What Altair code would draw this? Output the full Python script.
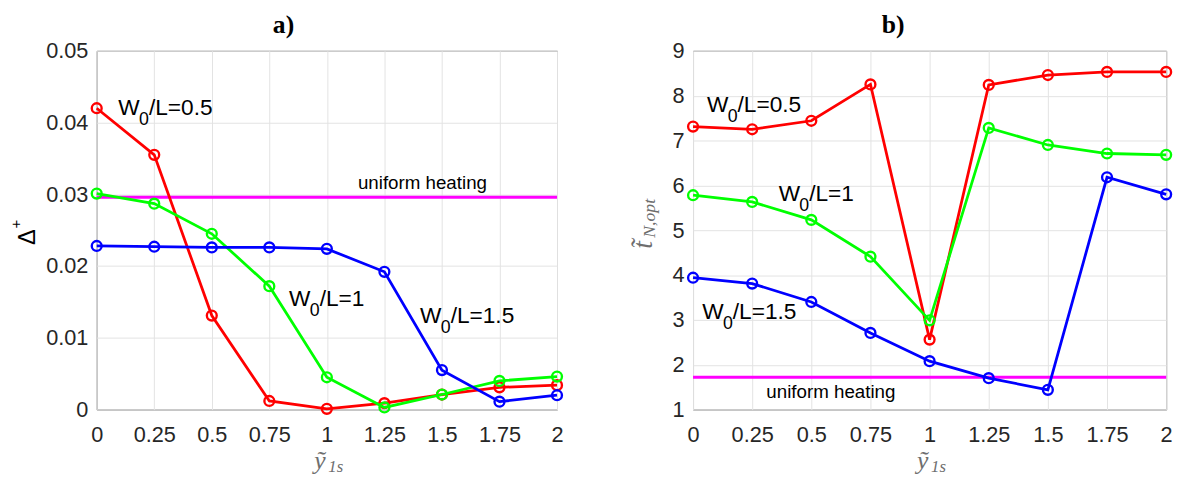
import altair as alt
import pandas as pd

# ---------------- data ----------------
x_vals = [0, 0.25, 0.5, 0.75, 1, 1.25, 1.5, 1.75, 2]
series_names = ["W0/L=0.5", "W0/L=1", "W0/L=1.5"]
series_colors = ["#ff0000", "#00ff00", "#0000ff"]

# panel a) Delta+
a_red = [0.0420, 0.0355, 0.0131, 0.0012, 0.0001, 0.0009, 0.0021, 0.0031, 0.0034]
a_green = [0.0301, 0.0287, 0.0245, 0.0172, 0.0045, 0.0003, 0.0021, 0.0040, 0.0046]
a_blue = [0.0228, 0.0227, 0.0226, 0.0226, 0.0224, 0.0192, 0.0055, 0.0011, 0.0020]
a_uniform = [0.0296]
a_yticks = [0, 0.01, 0.02, 0.03, 0.04, 0.05]

# panel b) t_N,opt
b_red = [7.31, 7.25, 7.44, 8.25, 2.56, 8.24, 8.46, 8.53, 8.53]
b_green = [5.78, 5.63, 5.23, 4.41, 2.99, 7.28, 6.90, 6.71, 6.68]
b_blue = [3.94, 3.81, 3.40, 2.71, 2.08, 1.70, 1.44, 6.18, 5.80]
b_uniform = [1.72]
b_yticks = [1, 2, 3, 4, 5, 6, 7, 8, 9]

# in-plot labels ("W" + subscript "0" + rest)
label_rest = ["/L=0.5", "/L=1", "/L=1.5"]
a_lab_x = [0.094, 0.836, 1.405]
a_lab_y = [0.0420, 0.0154, 0.0130]
b_lab_x = [0.059, 0.362, 0.039]
b_lab_y = [7.79, 5.81, 3.18]
uniform_text = ["uniform heating"]
a_uni_x, a_uni_y = [1.135], [0.0316]
b_uni_x, b_uni_y = [0.31], [1.40]

SANS = "Liberation Sans"
SERIF = "Liberation Serif"
TICK_COLOR = "#262626"
MATH_COLOR = "#6e6e6e"
one = pd.DataFrame({"k": [0]})


def panel(series, uniform, yticks, ydomain, lab_x, lab_y, uni_x, uni_y,
          title, title_dx, w, h, ytitle_layers):
    xs = alt.Scale(domain=[0, 2], nice=False)
    ys = alt.Scale(domain=ydomain, nice=False)
    xaxis = alt.Axis(values=x_vals, labelExpr="'' + datum.value", title=None, ticks=False,
                     domain=False, labelFont=SANS, labelFontSize=22,
                     labelColor=TICK_COLOR, labelPadding=15, gridColor="#e3e3e3",
                     labelFlush=False)
    yaxis = alt.Axis(values=yticks, labelExpr="'' + datum.value", title=None, ticks=False,
                     domain=False, labelFont=SANS, labelFontSize=22,
                     labelColor=TICK_COLOR, labelPadding=9, gridColor="#e3e3e3")
    X = alt.X("x:Q", scale=xs, axis=xaxis)
    Y = alt.Y("y:Q", scale=ys, axis=yaxis)

    layers = []
    uni_df = pd.DataFrame({"y": uniform})
    layers.append(alt.Chart(uni_df).mark_rule(color="#ff00ff", strokeWidth=3).encode(y=Y))

    for name, col, vals in zip(series_names, series_colors, series):
        df = pd.DataFrame({"x": x_vals, "y": vals, "series": name})
        layers.append(alt.Chart(df).mark_line(color=col, strokeWidth=2.8).encode(x=X, y=Y))
        layers.append(alt.Chart(df).mark_point(shape="circle", filled=False, color=col,
                                               size=100, strokeWidth=2.4, opacity=1)
                      .encode(x=X, y=Y))

    lab = pd.DataFrame({"x": lab_x, "y": lab_y, "rest": label_rest})
    layers.append(alt.Chart(lab).mark_text(text="W", align="left", baseline="middle",
                                           font=SANS, fontSize=23, color="black")
                  .encode(x=X, y=Y))
    layers.append(alt.Chart(lab).mark_text(text="0", align="left", baseline="middle",
                                           font=SANS, fontSize=18, color="black",
                                           dx=21, dy=12)
                  .encode(x=X, y=Y))
    layers.append(alt.Chart(lab).mark_text(align="left", baseline="middle",
                                           font=SANS, fontSize=23, color="black", dx=31)
                  .encode(x=X, y=Y, text="rest:N"))

    uni = pd.DataFrame({"x": uni_x, "y": uni_y, "t": uniform_text})
    layers.append(alt.Chart(uni).mark_text(align="left", baseline="middle",
                                           font=SANS, fontSize=19, color="black")
                  .encode(x=X, y=Y, text="t:N"))

    # x axis title  y~_{1s}
    layers.append(alt.Chart(one).mark_text(text="ỹ", font=SERIF, fontStyle="italic",
                                           fontSize=26, color=MATH_COLOR,
                                           align="center", baseline="middle")
                  .encode(x=alt.value(w / 2 - 7), y=alt.value(h + 52)))
    layers.append(alt.Chart(one).mark_text(text="1s", font=SERIF, fontStyle="italic",
                                           fontSize=17, color=MATH_COLOR,
                                           align="center", baseline="middle")
                  .encode(x=alt.value(w / 2 + 9), y=alt.value(h + 58)))
    layers.extend(ytitle_layers(h))

    return alt.layer(*layers).properties(
        width=w, height=h,
        title=alt.TitleParams(title, font=SERIF, fontWeight="bold", fontSize=26,
                              color="black", dx=title_dx, offset=2),
    )


def a_ytitle(h):
    return [
        alt.Chart(one).mark_text(text="Δ", font=SANS, fontSize=24, color="black",
                                 angle=270, align="center", baseline="middle")
        .encode(x=alt.value(-70), y=alt.value(h / 2 + 7)),
        alt.Chart(one).mark_text(text="+", font=SANS, fontSize=15, color="black",
                                 angle=270, align="center", baseline="middle")
        .encode(x=alt.value(-82), y=alt.value(h / 2 - 6)),
    ]


def b_ytitle(h):
    return [
        alt.Chart(one).mark_text(text="t\u0303", font=SERIF, fontStyle="italic",
                                 fontSize=28, color=MATH_COLOR, angle=270,
                                 align="center", baseline="middle")
        .encode(x=alt.value(-50), y=alt.value(h / 2 + 15)),
        alt.Chart(one).mark_text(text="N,opt", font=SERIF, fontStyle="italic",
                                 fontSize=18, color=MATH_COLOR, angle=270,
                                 align="center", baseline="middle")
        .encode(x=alt.value(-44), y=alt.value(h / 2 - 12)),
    ]


pa = panel([a_red, a_green, a_blue], a_uniform, a_yticks, [0, 0.05],
           a_lab_x, a_lab_y, a_uni_x, a_uni_y, "a)", -44, 467, 364, a_ytitle)
pb = panel([b_red, b_green, b_blue], b_uniform, b_yticks, [1, 9],
           b_lab_x, b_lab_y, b_uni_x, b_uni_y, "b)", -37, 480, 364, b_ytitle)

chart = alt.hconcat(pa, pb, spacing=62).properties(
    padding={"left": 0, "top": 0, "right": 0, "bottom": 0}
).configure_view(stroke="#5a5a5a", strokeWidth=1).configure_axis(grid=True)

chart.save("out.html", embed_options={"renderer": "svg", "actions": False})
